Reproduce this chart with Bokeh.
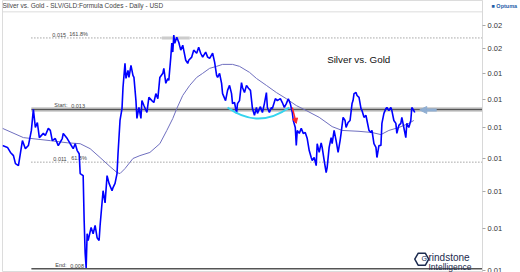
from bokeh.plotting import figure
from bokeh.models import Range1d, FixedTicker, Label, Arrow, NormalHead, LogAxis
from bokeh.embed import file_html
from bokeh.resources import INLINE
from bokeh.core.properties import value

# ---- data ----
price_day = [2,7,10,13,15,18,22,25,28,31,33,35,37,39,43,45,48,50,52,55,58,62,63,67,70,73,75,77,79,80,
             83,84,85,86,87,88,91,93,95,97,99,100,103,105,107,109,112,113,115,117,118,120,122,123,125,126,
             128,129,131,133,134,136,137,139,141,142,144,147,149,152,154,156,158,160,163,164,166,168,169,
             171,172,173,174,175,177,179,181,183,184,186,188,189,192,194,197,199,201,203,206,208,210,213,
             215,217,218,220,222,223,226,228,230,232,233,235,237,238,240,242,243,245,247,249,251,253,255,
             257,258,261,263,265,267,268,270,272,273,276,278,281,283,285,287,289,291,293,294,296,297,298,
             300,302,304,306,308,310,312,313,315,317,318,320,322,323,325,327,328,330,332,333,335,337,339,
             341,342,344,346,347,349,351,353,354,355,357,358,360,362,363,365,367,368,370,372,373,375,377,
             378,380,382,383,385,387,388,390,392,393,395,397,398,400,402,403,405,407,408,410,412,413,415,416]
price = [0.01140,0.01134,0.01118,0.01108,0.01083,0.01077,0.01156,0.01130,0.01140,0.01190,0.01263,0.01200,
         0.01217,0.01166,0.01180,0.01173,0.01197,0.01190,0.01156,0.01163,0.01140,0.01163,0.01180,0.01163,
         0.01146,0.01130,0.01146,0.01124,0.01114,0.01053,0.01047,0.00922,0.00840,0.00806,0.00888,0.00871,
         0.00904,0.00888,0.00909,0.00878,0.00871,0.00909,0.01003,0.00969,0.01047,0.01024,0.01003,0.01012,
         0.01024,0.01053,0.01114,0.01224,0.01266,0.01344,0.01439,0.01379,0.01411,0.01383,0.01431,0.01391,
         0.01383,0.01295,0.01231,0.01270,0.01231,0.01295,0.01277,0.01252,0.01307,0.01295,0.01288,0.01321,
         0.01302,0.01383,0.01399,0.01419,0.01360,0.01379,0.01371,0.01465,0.01524,0.01486,0.01559,0.01524,
         0.01550,0.01528,0.01494,0.01515,0.01494,0.01452,0.01439,0.01452,0.01465,0.01494,0.01481,0.01506,
         0.01481,0.01465,0.01486,0.01465,0.01460,0.01481,0.01444,0.01391,0.01383,0.01399,0.01360,0.01321,
         0.01295,0.01333,0.01352,0.01321,0.01284,0.01288,0.01249,0.01284,0.01295,0.01363,0.01344,0.01325,
         0.01352,0.01341,0.01333,0.01266,0.01242,0.01270,0.01249,0.01273,0.01252,0.01284,0.01325,0.01270,
         0.01252,0.01270,0.01266,0.01302,0.01295,0.01302,0.01288,0.01270,0.01284,0.01302,0.01284,0.01252,
         0.01224,0.01200,0.01140,0.01190,0.01180,0.01197,0.01180,0.01183,0.01163,0.01124,0.01102,0.01093,
         0.01102,0.01077,0.01146,0.01118,0.01149,0.01134,0.01093,0.01056,0.01071,0.01134,0.01166,0.01146,
         0.01190,0.01156,0.01118,0.01156,0.01180,0.01235,0.01224,0.01200,0.01217,0.01224,0.01284,0.01295,
         0.01321,0.01325,0.01314,0.01307,0.01266,0.01259,0.01235,0.01242,0.01224,0.01190,0.01183,0.01190,
         0.01146,0.01134,0.01102,0.01140,0.01140,0.01214,0.01249,0.01266,0.01270,0.01259,0.01270,0.01259,
         0.01224,0.01214,0.01180,0.01207,0.01214,0.01235,0.01200,0.01166,0.01214,0.01200,0.01224,0.01270,
         0.01259,0.01252]

ma_day = [2,23,50,67,80,90,100,110,117,120,125,133,140,150,160,167,173,177,183,190,197,203,210,217,223,
          233,240,250,257,267,277,287,297,307,320,333,343,360,373,382,390,400,410,415]
ma = [0.01197,0.01166,0.01156,0.01149,0.01146,0.01130,0.01102,0.01074,0.01056,0.01053,0.01068,0.01099,
      0.01108,0.01118,0.01146,0.01190,0.01231,0.01266,0.01314,0.01352,0.01383,0.01399,0.01419,0.01427,
      0.01435,0.01435,0.01427,0.01403,0.01379,0.01352,0.01325,0.01302,0.01277,0.01259,0.01235,0.01203,
      0.01190,0.01187,0.01183,0.01176,0.01190,0.01200,0.01214,0.01224]

tick_values = [0.008, 0.009, 0.010, 0.011, 0.012, 0.013, 0.014, 0.015, 0.016]
tick_labels = ["0.01", "0.01", "0.01", "0.01", "0.01", "0.01", "0.01", "0.02", "0.02"]

fib_start_day = 31
fib_start = 0.01263
fib_end = 0.00804
fib_ratios = [0.618, 1.618]
fib_value_text = ["0.011", "0.015"]
fib_ratio_text = ["61.8%", "161.8%"]

title_text = "Silver vs. Gold - SLV/GLD:Formula Codes - Daily - USD"
chart_label = "Silver vs. Gold"
brand_text = "\u25a0 Optuma"

# ---- figure ----
W, H = 520, 272
LEFT, RIGHT = 2, 36
y_top = 0.017199        # value at the very top of the canvas
y_frame_top = 0.016654  # value where the chart panel's top rule sits
y_brand = 0.016942      # level of the brand mark in the header strip
p = figure(width=W, height=H, output_backend="svg", toolbar_location=None,
           y_axis_type="log", y_axis_location="right",
           x_range=Range1d(2, 484), y_range=Range1d(0.007955, y_top),
           min_border_top=0, min_border_left=LEFT, min_border_right=RIGHT,
           min_border_bottom=0)
p.xaxis.visible = False
p.xgrid.visible = False
p.ygrid.visible = False
p.outline_line_color = "#dcdcdc"
p.background_fill_color = "white"
p.border_fill_color = "white"

FONT = "Liberation Sans"
ax = p.yaxis[0]
ax.ticker = FixedTicker(ticks=tick_values)
ax.major_label_overrides = {v: s for v, s in zip(tick_values, tick_labels)}
ax.minor_tick_line_color = None
ax.major_tick_in = 0
ax.major_tick_out = 3
ax.major_tick_line_color = "#aaaaaa"
ax.axis_line_color = "#d8d8d8"
ax.major_label_text_font_size = "7.5px"
ax.major_label_text_color = "#333333"
ax.major_label_text_font = FONT
ax.major_label_standoff = 2

# brand mark drawn as a label-only axis in the right strip
brand_axis = LogAxis(ticker=FixedTicker(ticks=[y_brand]),
                     major_label_overrides={y_brand: brand_text},
                     axis_line_color=None, major_tick_line_color=None,
                     minor_tick_line_color=None, major_tick_in=0, major_tick_out=0,
                     major_label_standoff=-14, major_label_text_font=FONT,
                     major_label_text_font_size="5.5px", major_label_text_color="#1f5ea8",
                     major_label_text_font_style="bold")
p.add_layout(brand_axis, "right")

line_end = 484

# top rule of the chart panel
p.line([2, line_end], [y_frame_top, y_frame_top], line_color="#dcdcdc", line_width=1)

# fib levels
rng = fib_start - fib_end
lvl = [fib_end + r * rng for r in fib_ratios]
for v_ in lvl:
    p.line([fib_start_day, line_end], [v_, v_], line_color="#777777", line_dash="1 2", line_width=1)
p.line([162, 190], [lvl[1], lvl[1]], line_color="#cccccc", line_width=3)
p.line([fib_start_day, line_end], [fib_start, fib_start], line_color="#d4d4d4", line_width=5)
p.line([fib_start_day, line_end], [fib_start, fib_start], line_color="#555555", line_width=1.5)
p.line([fib_start_day, line_end], [fib_end, fib_end], line_color="#555555", line_width=1.5)

small = dict(text_font=value(FONT), text_font_size="5.5px", text_color="#444444",
             text_baseline="bottom", y_offset=-1)
p.text(x=[53, 52], y=lvl, text=fib_value_text, **small)
p.text(x=[71, 69], y=lvl, text=fib_ratio_text, **small)
p.text(x=[54, 71], y=[fib_start, fib_start], text=["Start:", "0.013"], **small)
p.text(x=[55, 70], y=[fib_end, fib_end], text=["End:", "0.008"], **small)

# moving average
p.line(ma_day, ma, line_color="#6f6fbf", line_width=1)
# price
p.line(price_day, price, line_color="#0000ff", line_width=1.6)

# cyan cup arc
p.quadratic(x0=[228], y0=[0.01270], x1=[290], y1=[0.01270], cx=[259], cy=[0.01193],
            line_color="#35d4ee", line_width=2)
# red arrow
p.add_layout(Arrow(x_start=293, y_start=0.01270, x_end=297, y_end=0.01214,
                   line_color="#ff2a2a", line_width=1.5,
                   end=NormalHead(size=5, fill_color="#ff2a2a", line_color="#ff2a2a")))
# blue arrow at the right
p.add_layout(Arrow(x_start=438, y_start=0.01261, x_end=421, y_end=0.01261,
                   line_color="#8faed2", line_width=3,
                   end=NormalHead(size=7, fill_color="#8faed2", line_color="#8faed2")))

# texts (screen y measured from the bottom of the panel)
p.add_layout(Label(x=0, y=H - 5, x_units="screen", y_units="screen", text=title_text,
                   text_font=FONT, text_font_size="6.5px", text_color="#444444",
                   text_baseline="middle"))
p.add_layout(Label(x=328, y=0.01456, text=chart_label, text_font=FONT,
                   text_font_size="9.8px", text_color="#111111", text_baseline="middle"))
# Grindstone logo
p.scatter([423], [0.00826], marker="hex", size=14, fill_color=None, line_color="#1c2b4f", line_width=1.5)
p.add_layout(Label(x=421 - LEFT, y=H - 258, x_units="screen", y_units="screen", text="G",
                   text_font=FONT, text_font_size="7px", text_color="#1c2b4f", text_baseline="middle"))
p.add_layout(Label(x=428 - LEFT, y=H - 257, x_units="screen", y_units="screen", text="rindstone",
                   text_font=FONT, text_font_size="10px", text_color="#1c2b4f", text_baseline="middle"))
p.add_layout(Label(x=428 - LEFT, y=H - 266, x_units="screen", y_units="screen", text="Intelligence",
                   text_font=FONT, text_font_size="8.5px", text_color="#1c2b4f", text_baseline="middle"))

open("out.html", "w").write(file_html(p, INLINE))
